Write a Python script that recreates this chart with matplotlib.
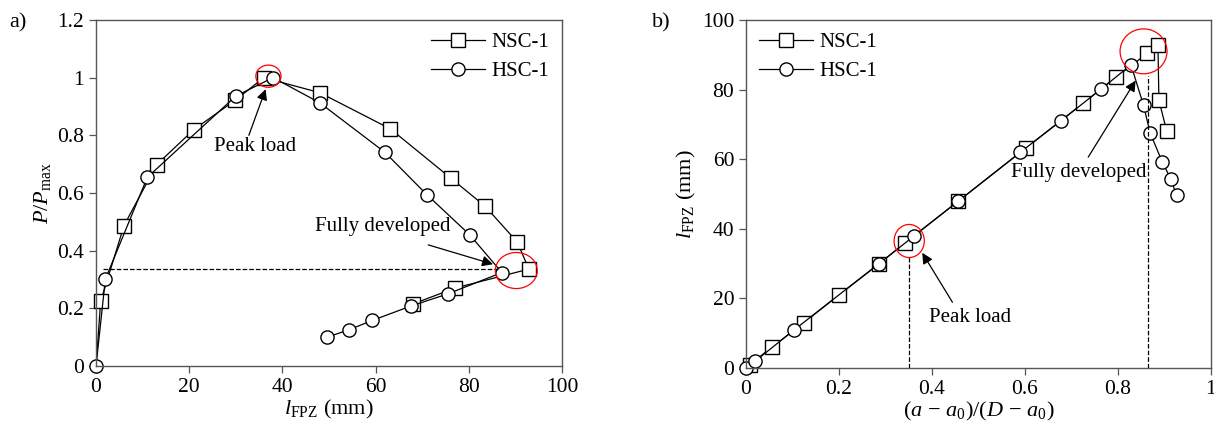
import matplotlib
matplotlib.use("Agg")
import matplotlib.pyplot as plt
from matplotlib.patches import Ellipse
from matplotlib.ticker import FuncFormatter

plt.rcParams['font.family'] = ['Liberation Serif', 'DejaVu Serif']
plt.rcParams['mathtext.fontset'] = 'custom'
plt.rcParams['mathtext.rm'] = 'Liberation Serif'
plt.rcParams['mathtext.it'] = 'Liberation Serif:italic'
plt.rcParams['font.size'] = 14

# NSC-1 data
nsc_lfpz = [0, 1.0, 6.0, 13.0, 21.0, 29.9, 36.0, 48.0, 63.2, 76.1, 83.5, 90.4, 92.9, 77.0, 68.0]
nsc_p = [0, 0.224, 0.487, 0.698, 0.820, 0.922, 1.0, 0.948, 0.822, 0.652, 0.554, 0.430, 0.336, 0.270, 0.215]
nsc_crack = [0, 0.008, 0.056, 0.124, 0.200, 0.286, 0.342, 0.457, 0.602, 0.725, 0.795, 0.863, 0.886, 0.888, 0.905]

# HSC-1 data
hsc_lfpz = [0, 2.0, 11.0, 30.0, 38.0, 48.0, 62.0, 71.0, 80.2, 87.1, 75.5, 67.6, 59.3, 54.2, 49.6]
hsc_p = [0, 0.301, 0.654, 0.936, 1.0, 0.913, 0.741, 0.594, 0.455, 0.324, 0.250, 0.208, 0.158, 0.125, 0.100]
hsc_crack = [0, 0.020, 0.104, 0.286, 0.362, 0.457, 0.590, 0.677, 0.764, 0.828, 0.855, 0.869, 0.895, 0.914, 0.926]

fig = plt.figure(figsize=(12.14, 4.23), dpi=100)
ax1 = fig.add_axes([0.0791, 0.1348, 0.3838, 0.818])
ax2 = fig.add_axes([0.6145, 0.130, 0.383, 0.8227])

line_kw = dict(color='black', lw=0.9, mfc='white', mec='black', mew=1.0, ms=9.5, clip_on=False)
arrow_kw = dict(arrowstyle='-|>', color='black', lw=0.9, mutation_scale=16,
                shrinkA=0, shrinkB=0)
nsc_marks = list(range(1, len(nsc_lfpz)))  # origin square hidden under the circle


def style_axes(ax):
    for s in ax.spines.values():
        s.set_color('#555555')
        s.set_linewidth(1.0)
    ax.tick_params(direction='out', length=5, width=0.9, color='#555555',
                   labelsize=15.5, top=False, right=False)


def fmt(v, pos):
    return '%g' % round(v, 2)


# ---- panel a ----
ax = ax1
ax.plot(nsc_lfpz, nsc_p, marker='s', markevery=nsc_marks, label='NSC-1', **line_kw)
ax.plot(hsc_lfpz, hsc_p, marker='o', label='HSC-1', **line_kw)
ax.plot([1.5, 86.3], [0.335, 0.335], ls='--', color='black', lw=0.9)
ax.add_patch(Ellipse((37.0, 1.005), 5.4, 0.077, fill=False, ec='red', lw=0.9, zorder=5))
ax.add_patch(Ellipse((90.2, 0.331), 9.0, 0.125, fill=False, ec='red', lw=0.9, zorder=5))
ax.annotate('', xy=(36.4, 0.96), xytext=(32.8, 0.80), arrowprops=arrow_kw)
ax.text(34.2, 0.762, 'Peak load', ha='center', va='center', fontsize=15)
ax.annotate('', xy=(85.2, 0.353), xytext=(71.3, 0.42), arrowprops=arrow_kw)
ax.text(61.5, 0.484, 'Fully developed', ha='center', va='center', fontsize=15)
ax.set_xlim(0, 100)
ax.set_ylim(0, 1.2)
ax.set_xticks([0, 20, 40, 60, 80, 100])
ax.set_yticks([0, 0.2, 0.4, 0.6, 0.8, 1.0, 1.2])
ax.yaxis.set_major_formatter(FuncFormatter(fmt))
ax.set_xlabel(r'$\mathit{l}_{\mathrm{FPZ}}$ (mm)', fontsize=16, labelpad=1)
ax.set_ylabel(r'$\mathit{P}/\mathit{P}_{\mathrm{max}}$', fontsize=16, labelpad=3)
ax.legend(loc='upper right', frameon=False, handlelength=2.6, fontsize=15,
          borderaxespad=0.2, labelspacing=0.45, handletextpad=0.3)
style_axes(ax)
fig.text(0.008, 0.945, 'a)', fontsize=16, ha='left', va='center')

# ---- panel b ----
ax = ax2
ax.plot(nsc_crack, nsc_lfpz, marker='s', markevery=nsc_marks, label='NSC-1', **line_kw)
ax.plot(hsc_crack, hsc_lfpz, marker='o', label='HSC-1', **line_kw)
ax.plot([0.35, 0.35], [0, 32], ls='--', color='black', lw=0.9)
ax.plot([0.865, 0.865], [0, 84], ls='--', color='black', lw=0.9)
ax.add_patch(Ellipse((0.351, 36.5), 0.065, 9.5, fill=False, ec='red', lw=0.9, zorder=5))
ax.add_patch(Ellipse((0.855, 91.0), 0.101, 12.9, fill=False, ec='red', lw=0.9, zorder=5))
ax.annotate('', xy=(0.379, 33.1), xytext=(0.444, 18.9), arrowprops=arrow_kw)
ax.text(0.482, 14.6, 'Peak load', ha='center', va='center', fontsize=15)
ax.annotate('', xy=(0.838, 82.6), xytext=(0.736, 60.6), arrowprops=arrow_kw)
ax.text(0.715, 56.3, 'Fully developed', ha='center', va='center', fontsize=15)
ax.set_xlim(0, 1)
ax.set_ylim(0, 100)
ax.set_xticks([0, 0.2, 0.4, 0.6, 0.8, 1.0])
ax.set_yticks([0, 20, 40, 60, 80, 100])
ax.xaxis.set_major_formatter(FuncFormatter(fmt))
ax.set_xlabel(r'$(\mathit{a}\,-\,\mathit{a}_0)/(\mathit{D}\,-\,\mathit{a}_0)$', fontsize=16, labelpad=1)
ax.set_ylabel(r'$\mathit{l}_{\mathrm{FPZ}}$ (mm)', fontsize=16, labelpad=3)
ax.legend(loc='upper left', frameon=False, handlelength=2.6, fontsize=15,
          borderaxespad=0.2, labelspacing=0.45, handletextpad=0.3)
style_axes(ax)
fig.text(0.537, 0.945, 'b)', fontsize=16, ha='left', va='center')

fig.savefig('out.png', dpi=100)
